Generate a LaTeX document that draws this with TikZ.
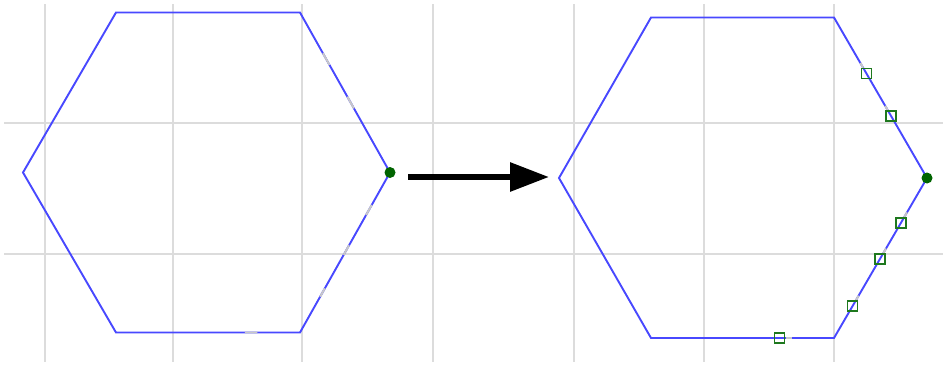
\documentclass[tikz,border=0pt]{standalone}
\usetikzlibrary{calc,arrows.meta}
\definecolor{gridgray}{RGB}{220,220,220}
\definecolor{hexblue}{RGB}{72,72,255}
\definecolor{dotgreen}{RGB}{0,100,0}
\definecolor{sqgreen}{RGB}{30,120,30}
\definecolor{gapgray}{RGB}{200,200,200}
\begin{document}
\begin{tikzpicture}[x=1pt,y=-1pt,
  gridline/.style={gridgray,line width=1.6pt},
  hexline/.style={hexblue,line width=1.9pt,line join=miter},
  gapline/.style={gapgray,line width=1.9pt},
  dotnode/.style={circle,fill=dotgreen,inner sep=0pt,minimum size=11pt},
  sqnode/.style={rectangle,draw=sqgreen,line width=1.5pt,inner sep=0pt,minimum size=10pt},
  bigarrow/.style={line width=6pt,-{Triangle[length=39pt,width=28pt]}}]
\useasboundingbox (0,0) rectangle (943,367);
\fill[white] (0,0) rectangle (943,367);
% grid
\foreach \x in {45,173,302,433,574,704,834} \draw[gridline] (\x,4) -- (\x,362);
\foreach \y in {123,254} \draw[gridline] (4,\y) -- (943,\y);
% left hexagon
\coordinate (L1) at (116,12.5);
\coordinate (L2) at (300,12.5);
\coordinate (L3) at (390,172.5);
\coordinate (L4) at (300,332.5);
\coordinate (L5) at (116,332.5);
\coordinate (L6) at (23,172.5);
\draw[hexline] (L1) -- (L2) -- (L3) -- (L4) -- (L5) -- (L6) -- cycle;
% light segments on left hexagon
\draw[gapline] ($(L2)!0.255!(L3)$) -- ($(L2)!0.328!(L3)$);
\draw[gapline] ($(L2)!0.526!(L3)$) -- ($(L2)!0.599!(L3)$);
\draw[gapline] ($(L3)!0.203!(L4)$) -- ($(L3)!0.266!(L4)$);
\draw[gapline] ($(L3)!0.455!(L4)$) -- ($(L3)!0.515!(L4)$);
\draw[gapline] ($(L3)!0.724!(L4)$) -- ($(L3)!0.776!(L4)$);
\draw[gapline] ($(L4)!0.232!(L5)$) -- ($(L4)!0.299!(L5)$);
\node[dotnode] (dl) at (L3) {};
% right hexagon
\coordinate (R1) at (651,17.5);
\coordinate (R2) at (834,17.5);
\coordinate (R3) at (927,178);
\coordinate (R4) at (834,338);
\coordinate (R5) at (651,338);
\coordinate (R6) at (559,178);
\draw[hexline] (R1) -- (R2) -- (R3) -- (R4) -- (R5) -- (R6) -- cycle;
% squares on the right hexagon
\coordinate (s1) at ($(R2)!0.348!(R3)$);
\coordinate (s2) at ($(R2)!0.615!(R3)$);
\coordinate (s3) at ($(R3)!0.280!(R4)$);
\coordinate (s4) at ($(R3)!0.506!(R4)$);
\coordinate (s5) at ($(R3)!0.800!(R4)$);
\coordinate (s6) at ($(R4)!0.299!(R5)$);
\draw[gapline] ($(s1)!6.5pt!(R2)$) -- ($(s1)!12pt!(R2)$);
\draw[gapline] ($(s2)!6.5pt!(R2)$) -- ($(s2)!12pt!(R2)$);
\draw[gapline] ($(s3)!6.5pt!(R3)$) -- ($(s3)!12pt!(R3)$);
\draw[gapline] ($(s4)!6.5pt!(R3)$) -- ($(s4)!12pt!(R3)$);
\draw[gapline] ($(s5)!6.5pt!(R3)$) -- ($(s5)!12pt!(R3)$);
\draw[gapline] ($(s6)!7pt!(R4)$) -- ($(s6)!13pt!(R4)$);
\foreach \s in {s1,s2,s3,s4,s5,s6} \node[sqnode] (n\s) at (\s) {};
\node[dotnode] (dr) at (R3) {};
% arrow
\coordinate (as) at (408,177);
\coordinate (ae) at (549,177);
\draw[bigarrow] (as) -- (ae);
\end{tikzpicture}
\end{document}
